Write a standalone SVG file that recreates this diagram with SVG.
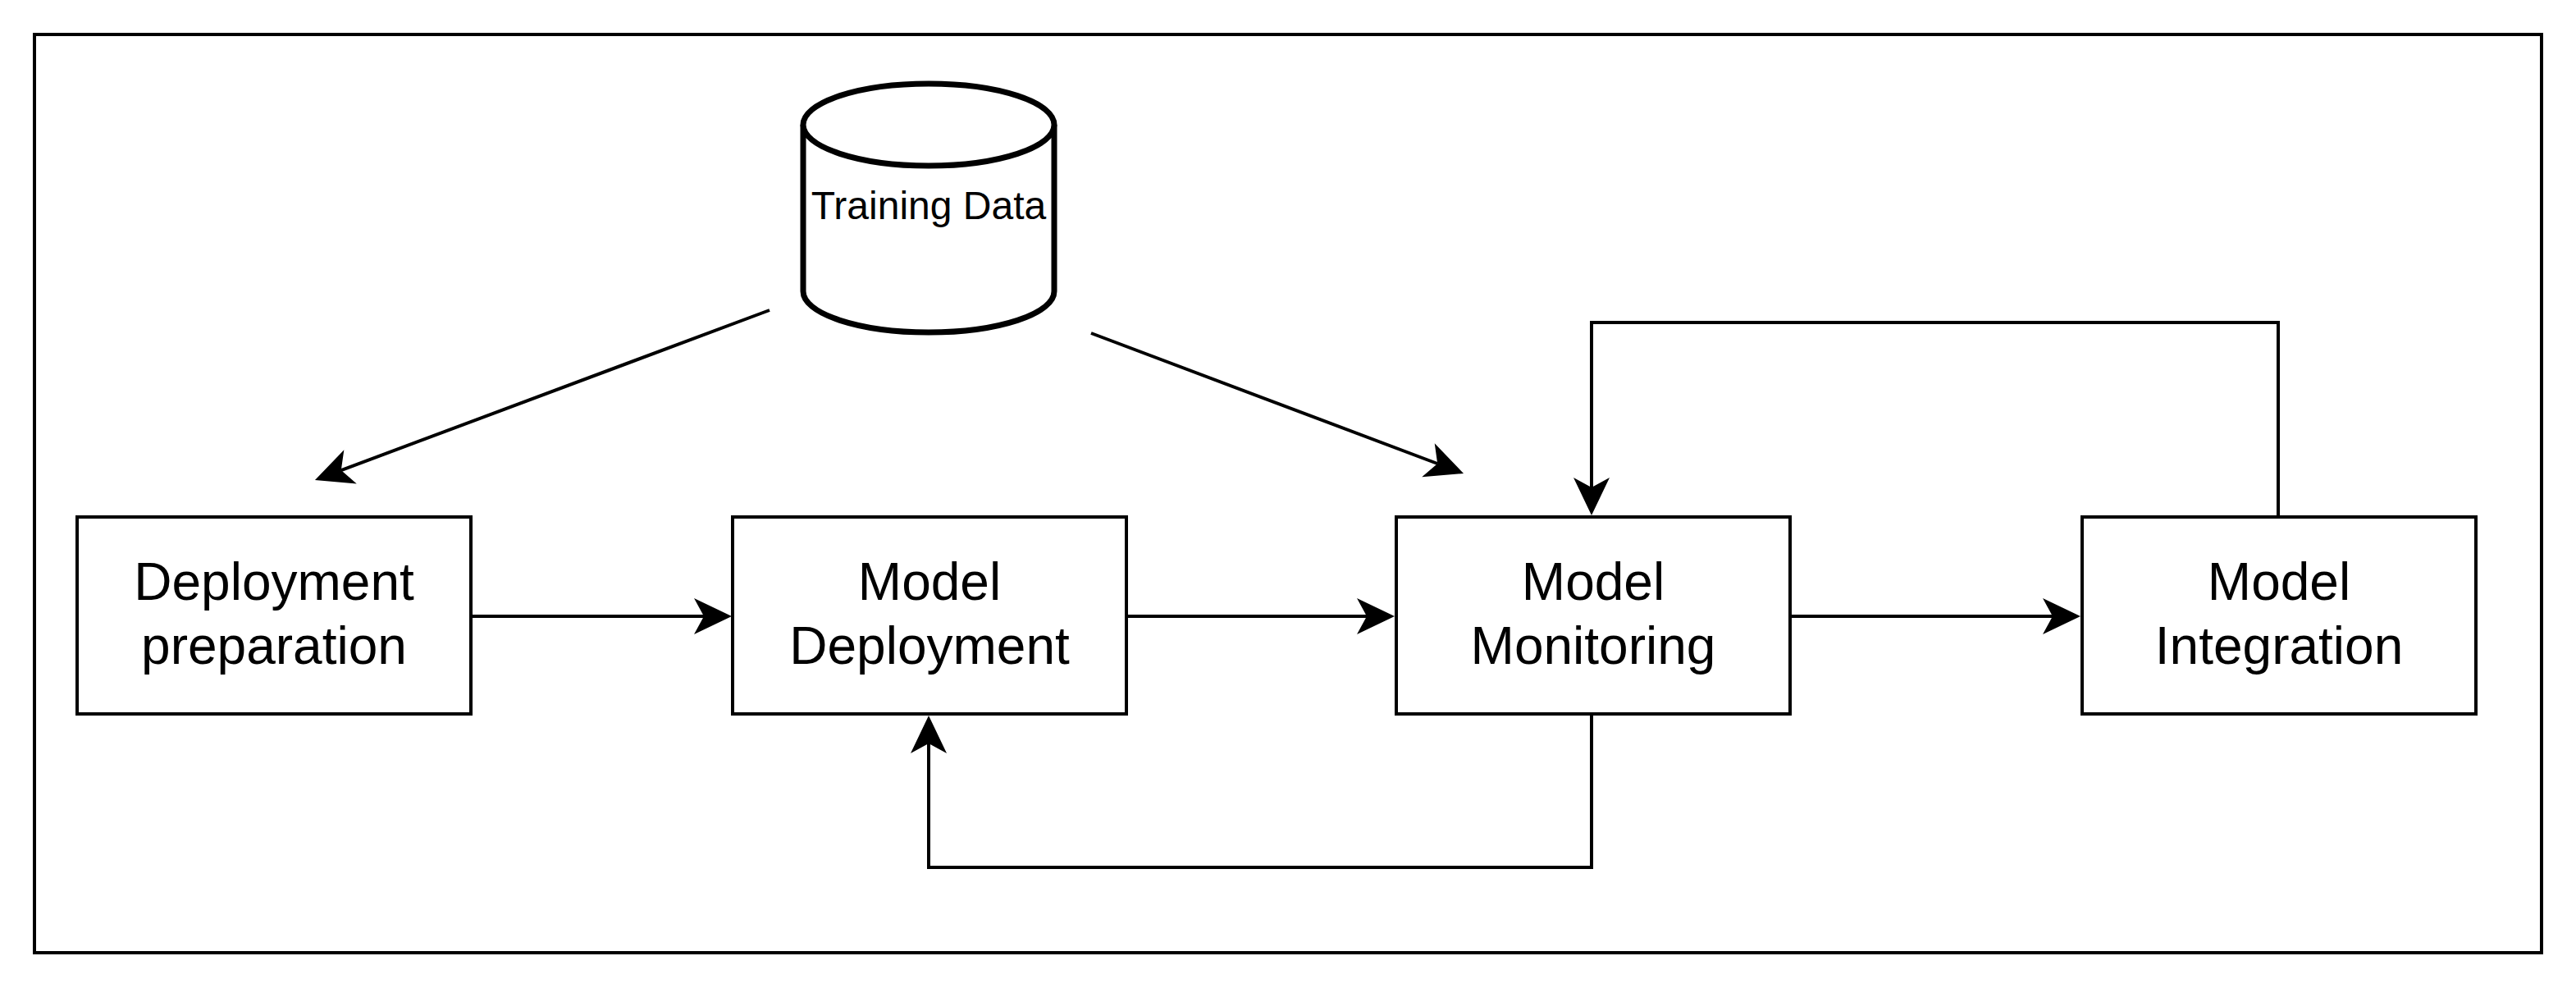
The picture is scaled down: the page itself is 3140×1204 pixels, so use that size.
<svg xmlns="http://www.w3.org/2000/svg" width="3140" height="1204" viewBox="0 0 3140 1204">
  <style>
    .box { fill: #ffffff; stroke: #000000; stroke-width: 4; }
    .cyl { fill: #ffffff; stroke: #000000; stroke-width: 7; stroke-linejoin: round; }
    .lbl { font-family: "Liberation Sans", Arial, Helvetica, sans-serif; font-size: 64px; fill: #000000; text-anchor: middle; }
    .lbl-sm { font-family: "Liberation Sans", Arial, Helvetica, sans-serif; font-size: 48px; fill: #000000; text-anchor: middle; }
    .edge { fill: none; stroke: #000000; stroke-width: 4; stroke-linejoin: miter; marker-end: url(#arrow); }
  </style>
  <defs>
    <marker id="arrow" markerUnits="userSpaceOnUse" markerWidth="48" markerHeight="46" viewBox="0 0 48 46" refX="12" refY="22" orient="auto" overflow="visible">
      <path d="M46,22 L0,0 L12,22 L0,44 Z" fill="#000000" stroke="none"/>
    </marker>
  </defs>
  <rect x="0" y="0" width="3140" height="1204" fill="#ffffff"/>
  <rect id="frame" x="42" y="42" width="3056" height="1119" fill="none" stroke="#000000" stroke-width="4"/>

  <g id="training-data">
    <path class="cyl" d="M979,152 A153,50 0 0 1 1285,152 L1285,355 A153,50 0 0 1 979,355 Z"/>
    <path class="cyl" fill="none" d="M979,152 A153,50 0 0 0 1285,152"/>
    <text class="lbl-sm" x="1132" y="267">Training Data</text>
  </g>

  <g id="deployment-preparation">
    <rect class="box" x="94" y="630" width="480" height="240"/>
    <text class="lbl" x="334" y="731">Deployment</text>
    <text class="lbl" x="334" y="809">preparation</text>
  </g>

  <g id="model-deployment">
    <rect class="box" x="893" y="630" width="480" height="240"/>
    <text class="lbl" x="1133" y="731">Model</text>
    <text class="lbl" x="1133" y="809">Deployment</text>
  </g>

  <g id="model-monitoring">
    <rect class="box" x="1702" y="630" width="480" height="240"/>
    <text class="lbl" x="1942" y="731">Model</text>
    <text class="lbl" x="1942" y="809">Monitoring</text>
  </g>

  <g id="model-integration">
    <rect class="box" x="2538" y="630" width="480" height="240"/>
    <text class="lbl" x="2778" y="731">Model</text>
    <text class="lbl" x="2778" y="809">Integration</text>
  </g>

  <g id="connectors">
    <path class="edge" d="M576,751 L858,751"/>
    <path class="edge" d="M1375,751 L1666,751"/>
    <path class="edge" d="M2184,751 L2502,751"/>
    <path class="edge" d="M1940,872 L1940,1057 L1132,1057 L1132,906"/>
    <path class="edge" d="M2777,628 L2777,393 L1940,393 L1940,594"/>
    <path class="edge" d="M938,378 L415.8,573.1"/>
    <path class="edge" d="M1330,406 L1752.2,565"/>
  </g>
</svg>
